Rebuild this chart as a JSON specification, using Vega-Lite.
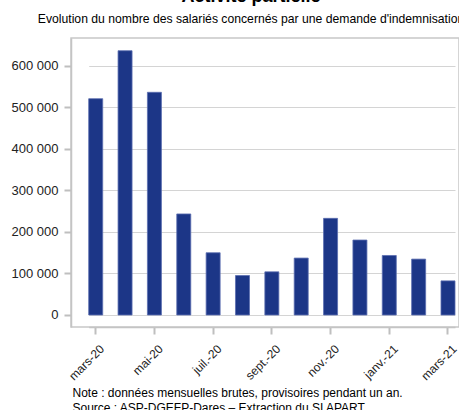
{
  "$schema": "https://vega.github.io/schema/vega-lite/v6.json",
  "autosize": {"type": "none"},
  "padding": {"left": 71, "top": 38, "right": 0, "bottom": 83},
  "width": 388,
  "height": 289,
  "background": "white",
  "title": {
    "text": "Activité partielle",
    "subtitle": "Evolution du nombre des salariés concernés par une demande d'indemnisation",
    "anchor": "middle",
    "frame": "group",
    "dx": -14,
    "offset": 13,
    "font": "Liberation Sans",
    "fontSize": 18,
    "fontWeight": "bold",
    "color": "#000000",
    "subtitleFont": "Liberation Sans",
    "subtitleFontSize": 12.2,
    "subtitleColor": "#000000",
    "subtitlePadding": 7
  },
  "data": {
    "values": [
      {"mois": "mars-20", "salaries": 520600},
      {"mois": "avr.-20", "salaries": 636100},
      {"mois": "mai-20", "salaries": 536000},
      {"mois": "juin-20", "salaries": 243200},
      {"mois": "juil.-20", "salaries": 149800},
      {"mois": "août-20", "salaries": 95000},
      {"mois": "sept.-20", "salaries": 103900},
      {"mois": "oct.-20", "salaries": 137000},
      {"mois": "nov.-20", "salaries": 232600},
      {"mois": "déc.-20", "salaries": 180400},
      {"mois": "janv.-21", "salaries": 143200},
      {"mois": "févr.-21", "salaries": 134500},
      {"mois": "mars-21", "salaries": 82100}
    ]
  },
  "mark": {"type": "bar", "color": "#1c3687", "stroke": "#5a6db0", "strokeWidth": 0.8},
  "encoding": {
    "x": {
      "field": "mois",
      "type": "nominal",
      "sort": null,
      "scale": {"range": [17.7, 384], "paddingInner": 0.523, "paddingOuter": 0},
      "axis": {
        "values": ["mars-20", "mai-20", "juil.-20", "sept.-20", "nov.-20", "janv.-21", "mars-21"],
        "labelAngle": -45,
        "labelFont": "Liberation Sans",
        "labelFontSize": 12,
        "labelColor": "#222222",
        "labelPadding": 9,
        "labelOffset": 3,
        "tickColor": "#bfbfbf",
        "tickWidth": 2,
        "tickSize": 7,
        "domainColor": "#c4c4c4",
        "domainWidth": 1.5,
        "grid": false,
        "title": ["Note : données mensuelles brutes, provisoires pendant un an.", "Source : ASP-DGEFP-Dares – Extraction du SI APART"],
        "titleFont": "Liberation Sans",
        "titleFontSize": 12,
        "titleFontWeight": "normal",
        "titleColor": "#000000",
        "titleAnchor": "start",
        "titleAlign": "left",
        "titleBaseline": "alphabetic",
        "titleLineHeight": 15,
        "titleX": 1,
        "titleY": 69.7,
        "titleAngle": 0
      }
    },
    "y": {
      "field": "salaries",
      "type": "quantitative",
      "scale": {"domain": [-28900, 666700], "nice": false, "zero": false},
      "axis": {
        "values": [0, 100000, 200000, 300000, 400000, 500000, 600000],
        "labelExpr": "datum.value == 0 ? '0' : format(datum.value / 1000, 'd') + ' 000'",
        "labelFont": "Liberation Sans",
        "labelFontSize": 13,
        "labelColor": "#222222",
        "labelPadding": 6,
        "tickColor": "#bfbfbf",
        "tickWidth": 2,
        "tickSize": 7,
        "domainColor": "#c4c4c4",
        "domainWidth": 1.5,
        "grid": true,
        "gridColor": "#d4d4d4",
        "gridWidth": 1,
        "title": null
      }
    }
  },
  "config": {
    "view": {"stroke": "#c8c8c8", "strokeWidth": 1.5}
  }
}
